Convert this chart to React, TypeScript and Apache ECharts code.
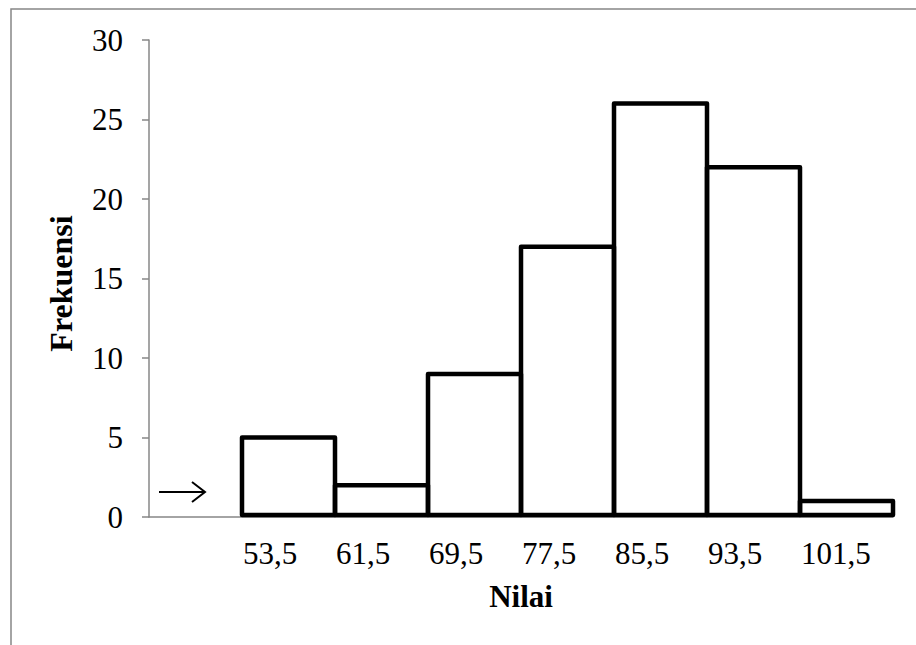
import React, { useEffect, useRef } from "react";
import * as echarts from "echarts";

const categories = ["", "53,5", "61,5", "69,5", "77,5", "85,5", "93,5", "101,5"];
const frequencies: (number | null)[] = [null, 5, 2, 9, 17, 26, 22, 1];
const yTicks = { min: 0, max: 30, interval: 5 };
const xTitle = "Nilai";
const yTitle = "Frekuensi";

const FONT = "'Liberation Serif', 'Times New Roman', serif";
const GRAY = "#878787";

export default function App() {
  const ref = useRef<HTMLDivElement>(null);
  useEffect(() => {
    if (!ref.current) return;
    const chart = echarts.init(ref.current, undefined, { renderer: "svg" });
    const barData = frequencies
      .map((f, i) => [i, f])
      .filter((d) => d[1] !== null && d[1] !== undefined);
    chart.setOption({
      animation: false,
      backgroundColor: "#ffffff",
      grid: { left: 149, right: 23, top: 40, bottom: 128, containLabel: false },
      xAxis: [
        {
          type: "category",
          data: categories,
          boundaryGap: true,
          axisLine: { show: true, lineStyle: { color: GRAY, width: 1.5 } },
          axisTick: { show: false },
          axisLabel: { show: false },
          splitLine: { show: false },
          name: xTitle,
          nameLocation: "middle",
          nameGap: 64,
          nameTextStyle: { fontFamily: FONT, fontSize: 31, fontWeight: "bold", color: "#000" },
        },
        {
          type: "value",
          position: "bottom",
          min: 0,
          max: categories.length,
          interval: 1,
          axisLine: { show: false },
          axisTick: { show: false },
          splitLine: { show: false },
          axisLabel: {
            show: true,
            align: "left",
            margin: 21,
            padding: [0, 0, 0, 1],
            fontFamily: FONT,
            fontSize: 31,
            color: "#000",
            formatter: (v: number) => categories[v] ?? "",
          },
        },
      ],
      yAxis: {
        type: "value",
        min: yTicks.min,
        max: yTicks.max,
        interval: yTicks.interval,
        axisLine: { show: true, lineStyle: { color: GRAY, width: 1.5 } },
        axisTick: { show: true, length: 7, lineStyle: { color: GRAY, width: 1.5 } },
        splitLine: { show: false },
        axisLabel: { margin: 26, fontFamily: FONT, fontSize: 31, color: "#000" },
        name: yTitle,
        nameLocation: "middle",
        nameGap: 72,
        nameTextStyle: {
          fontFamily: FONT,
          fontSize: 32,
          fontWeight: "bold",
          color: "#000",
          padding: [0, 10, 0, 0],
        },
      },
      series: [
        {
          type: "custom",
          xAxisIndex: 0,
          yAxisIndex: 0,
          data: barData,
          encode: { x: 0, y: 1 },
          z: 3,
          renderItem: (params: any, api: any) => {
            const xv = api.value(0);
            const yv = api.value(1);
            const base = api.coord([xv, 0]);
            const top = api.coord([xv, yv]);
            const w = api.size([1, 0])[0];
            const bottom = base[1] - 2;
            return {
              type: "rect",
              shape: { x: base[0] - w / 2, y: top[1], width: w, height: bottom - top[1] },
              style: { fill: "none", stroke: "#000", lineWidth: 4.5, lineJoin: "round" },
            };
          },
        },
      ],
      graphic: [
        {
          type: "polyline",
          shape: { points: [[11, 645], [11, 9], [916, 9]] },
          style: { stroke: GRAY, lineWidth: 1.5, fill: "none" },
          silent: true,
        },
        {
          type: "line",
          shape: { x1: 159, y1: 492, x2: 205, y2: 492 },
          style: { stroke: "#000", lineWidth: 2 },
        },
        {
          type: "polyline",
          shape: { points: [[192, 482], [205, 492], [192, 502]] },
          style: { stroke: "#000", lineWidth: 2, fill: "none" },
        },
      ],
    });
    return () => chart.dispose();
  }, []);
  return (
    <div
      ref={ref}
      style={{ position: "fixed", left: 0, top: 0, width: 916, height: 645, background: "#fff" }}
    />
  );
}
